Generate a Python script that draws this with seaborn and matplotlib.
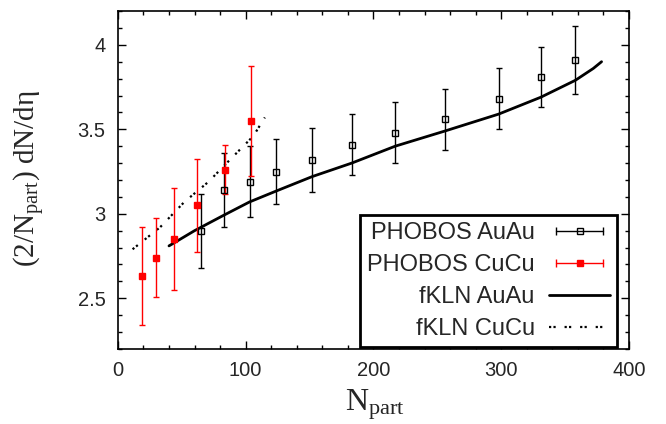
import numpy as np
import matplotlib
matplotlib.use("Agg")
import matplotlib.pyplot as plt
from matplotlib.lines import Line2D
from matplotlib.legend_handler import HandlerLine2D
from matplotlib.ticker import MultipleLocator
import seaborn as sns

# PHOBOS data
au_npart = [65, 83, 103, 124, 152, 183, 217, 256, 298, 331, 358]
au_val = [2.90, 3.14, 3.19, 3.25, 3.32, 3.41, 3.48, 3.56, 3.68, 3.81, 3.91]
au_err = [0.22, 0.22, 0.21, 0.19, 0.19, 0.18, 0.18, 0.18, 0.18, 0.18, 0.20]

cu_npart = [19, 30, 44, 62, 84, 104]
cu_val = [2.63, 2.74, 2.85, 3.05, 3.26, 3.55]
cu_err = [0.29, 0.235, 0.30, 0.275, 0.145, 0.325]

# fKLN curves
kln_au_npart = [40, 60, 82.5, 103, 124, 152, 183, 217, 256, 298, 331, 358, 372, 378.5]
kln_au_val = [2.81, 2.90, 2.99, 3.07, 3.135, 3.22, 3.30, 3.40, 3.49, 3.59, 3.69, 3.79, 3.86, 3.90]

kln_cu_npart = [11.5, 33, 52, 71, 89, 106, 115]
kln_cu_val = [2.79, 2.92, 3.07, 3.19, 3.33, 3.46, 3.57]

sns.set_style("ticks")
plt.rcParams["font.family"] = ["Liberation Sans", "DejaVu Sans"]
plt.rcParams["mathtext.fontset"] = "custom"
plt.rcParams["mathtext.rm"] = "Liberation Serif"
plt.rcParams["mathtext.it"] = "Liberation Serif:italic"

fig = plt.figure(figsize=(6.66, 4.24), dpi=100)
ax = fig.add_axes([0.177, 0.177, 0.7675, 0.797])

dots = (0, (1, 1, 1, 4))
sns.lineplot(x=kln_au_npart, y=kln_au_val, ax=ax, color="black", lw=2, sort=False)
sns.lineplot(x=kln_cu_npart, y=kln_cu_val, ax=ax, color="black", lw=1.6,
             linestyle=dots, sort=False)

ax.errorbar(au_npart, au_val, yerr=au_err, fmt="s", color="black", mfc="none",
            mec="black", ms=4, mew=1, elinewidth=1, capsize=2, capthick=1)
ax.errorbar(cu_npart, cu_val, yerr=cu_err, fmt="s", color="red", mfc="red",
            mec="red", ms=4.5, mew=1, elinewidth=1, capsize=2.2, capthick=1)

ax.set_xlim(0, 400)
ax.set_ylim(2.2, 4.2)
ax.xaxis.set_major_locator(MultipleLocator(100))
ax.xaxis.set_minor_locator(MultipleLocator(20))
ax.yaxis.set_major_locator(MultipleLocator(0.5))
ax.yaxis.set_minor_locator(MultipleLocator(0.1))
ax.set_yticks([2.5, 3, 3.5, 4])
ax.set_yticklabels(["2.5", "3", "3.5", "4"])
ax.tick_params(which="both", direction="in", top=True, right=True, width=1,
               color="black", labelsize=14.5)
ax.tick_params(which="major", length=6)
ax.tick_params(which="minor", length=3)
ax.tick_params(axis="x", pad=9)
ax.tick_params(axis="y", pad=9)
for s in ax.spines.values():
    s.set_linewidth(1.2)
    s.set_color("black")

ax.set_xlabel(r"$\mathrm{N_{part}}$", fontsize=23)
ax.set_ylabel(r"(2/$\mathrm{N_{part}}$) dN/dη", fontsize=21, family="Liberation Serif")
ax.xaxis.set_label_coords(0.503, -0.115)
ax.yaxis.set_label_coords(-0.138, 0.503)

# gnuplot style legend keys
cap_au = Line2D([], [], color="black", lw=1, marker="|", ms=6, mew=1)
sq_au = Line2D([], [], ls="none", marker="s", mfc="none", mec="black", ms=4, mew=1)
cap_cu = Line2D([], [], color="red", lw=1, marker="|", ms=6, mew=1)
sq_cu = Line2D([], [], ls="none", marker="s", mfc="red", mec="red", ms=4.5, mew=1)
solid = Line2D([], [], color="black", lw=2)
dotted = Line2D([], [], color="black", lw=1.6, ls=dots)

hmap = {cap_au: HandlerLine2D(numpoints=2), cap_cu: HandlerLine2D(numpoints=2),
        sq_au: HandlerLine2D(numpoints=1), sq_cu: HandlerLine2D(numpoints=1)}
leg = ax.legend([(cap_au, sq_au), (cap_cu, sq_cu), solid, dotted],
                ["PHOBOS AuAu", "PHOBOS CuCu", "fKLN AuAu", "fKLN CuCu"],
                handler_map=hmap, loc="lower right", bbox_to_anchor=(0.977, 0.005),
                borderaxespad=0, markerfirst=False, fontsize=17, handlelength=2.6,
                handletextpad=0.6, labelspacing=0.42, borderpad=0.3, fancybox=False,
                framealpha=1, edgecolor="black")
leg.get_frame().set_linewidth(2)

fig.savefig("out.png", dpi=100)
